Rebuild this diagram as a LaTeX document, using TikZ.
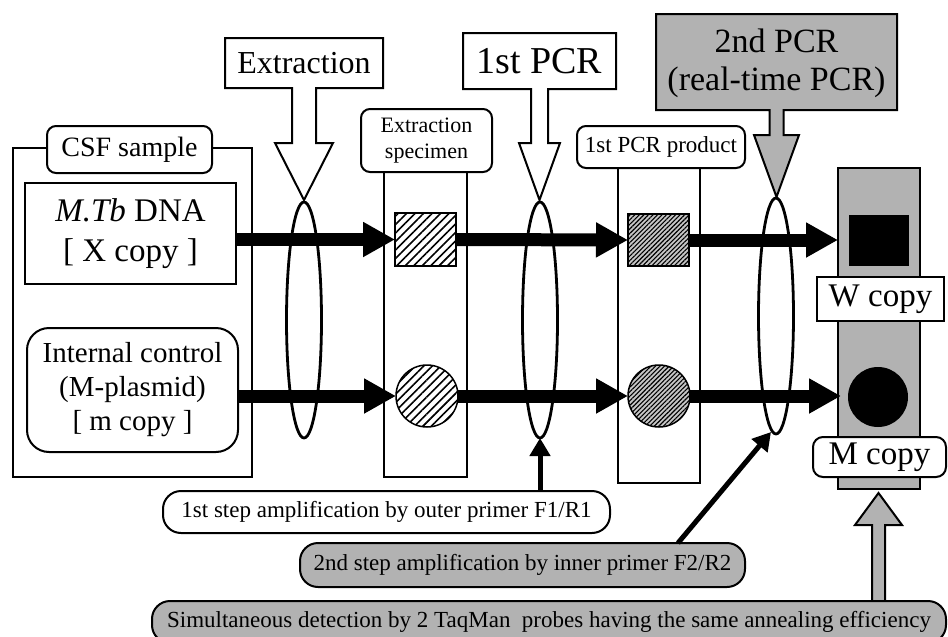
\documentclass[tikz,border=0pt]{standalone}
\usepackage{fontspec}
\setmainfont{Liberation Serif}
\usetikzlibrary{shapes.geometric,arrows.meta,patterns.meta}
\newcommand\fsz[2]{\fontsize{#1}{#2}\selectfont}
\begin{document}
\begin{tikzpicture}[x=1pt,y=-1pt,
  every node/.style={inner sep=0pt, outer sep=0pt},
  box/.style={draw, line width=2pt, fill=white, align=center},
  rbox/.style={box, rounded corners=9pt},
  pill/.style={box, rounded corners=18pt},
  colbox/.style={draw, line width=1.6pt, fill=white},
  lens/.style={draw, ellipse, line width=2.8pt, minimum width=35pt, minimum height=236pt},
  fatarrow/.style={line width=13pt, -{Triangle[length=32pt,width=33pt]}},
  smallarrow/.style={line width=5pt, -{Triangle[length=18pt,width=20pt]}},
  callout/.style={draw, line width=2pt, line join=miter},
  hatchA/.style={draw, line width=1.5pt, preaction={fill=white}, pattern={Lines[angle=45,distance=6pt,line width=1.6pt]}},
  hatchB/.style={draw, line width=1.5pt, preaction={fill=gray!45}, pattern={Lines[angle=45,distance=3.2pt,line width=1.1pt]}},
]
\clip (0,0) rectangle (948,637);
\fill[white] (0,0) rectangle (948,637);

% columns / containers
\node[colbox, minimum width=239pt, minimum height=329pt] (csf) at (132.5,312.5) {};
\node[colbox, minimum width=83pt, minimum height=317pt] (colA) at (425.5,318.5) {};
\node[colbox, minimum width=82pt, minimum height=323pt] (colB) at (659,321.5) {};
\node[colbox, fill=gray!60, minimum width=82pt, minimum height=321pt] (colC) at (879,328.5) {};

% labels of containers
\node[rbox, minimum width=165pt, minimum height=47pt, font=\fsz{28}{30}] (csflab) at (129.5,149.5) {CSF sample};
\node[rbox, minimum width=131pt, minimum height=63pt, font=\fsz{22}{26}] (colAlab) at (426.5,140.5) {Extraction\\specimen};
\node[rbox, minimum width=168pt, minimum height=42pt, font=\fsz{23}{25}] (colBlab) at (661,147) {1st PCR product};

% sample boxes
\node[box, minimum width=211pt, minimum height=101pt, font=\fsz{33}{40}] (mtb) at (130.5,233.5) {\textit{M.Tb} DNA\\{}[ X copy ]};
\node[box, rounded corners=22pt, minimum width=211pt, minimum height=124pt, font=\fsz{29}{34}] (ic) at (132.5,390) {Internal control\\(M-plasmid)\\{}[ m copy ]};

% callout arrows
\draw[callout, fill=white] (225,38) -- (383,38) -- (383,88) -- (316,88) -- (316,143) -- (333,143) -- (304,200) -- (275,143) -- (292,143) -- (292,88) -- (225,88) -- cycle;
\node[font=\fsz{32}{36}] (extxt) at (304,63) {Extraction};

\draw[callout, fill=white] (463,33) -- (616,33) -- (616,89) -- (548,89) -- (548,143) -- (560,143) -- (539.5,200) -- (519,143) -- (531,143) -- (531,89) -- (463,89) -- cycle;
\node[font=\fsz{38}{40}] (pcr1txt) at (539.5,61) {1st PCR};

\draw[callout, fill=gray!60] (656,14) -- (897,14) -- (897,110) -- (783.5,110) -- (783.5,135) -- (799,135) -- (776.5,197) -- (754,135) -- (769.5,135) -- (769.5,110) -- (656,110) -- cycle;
\node[align=center, font=\fsz{34}{38}] (pcr2txt) at (776.5,63) {2nd PCR\\(real-time PCR)};

% specimens
\node[hatchA, minimum width=61pt, minimum height=53pt] (sq1) at (425.5,239.5) {};
\node[hatchA, circle, minimum size=62pt] (ci1) at (427,396) {};
\node[hatchB, minimum width=61pt, minimum height=52pt] (sq2) at (658.5,240) {};
\node[hatchB, circle, minimum size=62pt] (ci2) at (659,396) {};
\node[fill=black, minimum width=60pt, minimum height=51pt] (sq3) at (879,240.5) {};
\node[fill=black, circle, minimum size=60pt] (ci3) at (878,397) {};

% main arrows
\draw[fatarrow] (mtb.east |- sq1.west) -- (sq1.west);
\draw[fatarrow] (sq1.east) -- (sq2.west);
\draw[fatarrow] (sq2.east) -- (colC.west |- sq2.east);
\draw[fatarrow] (ic.east |- ci1.west) -- (ci1.west);
\draw[fatarrow] (ci1.east) -- (ci2.west);
\draw[fatarrow] (ci2.east) -- ([xshift=3pt]colC.west |- ci2.east);

% lenses
\node[lens] (lens1) at (304,320) {};
\node[lens] (lens2) at (540,320) {};
\node[lens] (lens3) at (776,316) {};

% result labels
\node[box, minimum width=127pt, minimum height=44pt, font=\fsz{33}{36}] (wcopy) at (880.5,299) {W copy};
\node[box, rounded corners=10pt, minimum width=133pt, minimum height=40pt, font=\fsz{33}{36}] (mcopy) at (879.5,457) {M copy};

% bottom step labels
\node[pill, minimum width=447pt, minimum height=42pt, font=\fsz{23}{26}] (step1) at (386.5,512) {1st step amplification by outer primer F1/R1};
\node[pill, fill=gray!60, minimum width=445pt, minimum height=44pt, font=\fsz{23}{26}] (step2) at (522.5,565) {2nd step amplification by inner primer F2/R2};

\draw[smallarrow] (step1.north -| lens2.south) -- (lens2.south);
\coordinate (s2start) at (678,543);
\draw[smallarrow] (s2start) -- ([xshift=-5pt,yshift=2pt]lens3.south);

% detection arrow and label
\coordinate (detTip) at (878.5,493);
\draw[callout, fill=gray!60] (872,606) -- (872,525) -- (855,525) -- (detTip) -- (902,525) -- (885,525) -- (885,606);
\node[pill, fill=gray!60, minimum width=794pt, minimum height=42pt, font=\fsz{23}{26}] (sim) at (549,622) {Simultaneous detection by 2 TaqMan\ \ probes having the same annealing efficiency};
\end{tikzpicture}
\end{document}
